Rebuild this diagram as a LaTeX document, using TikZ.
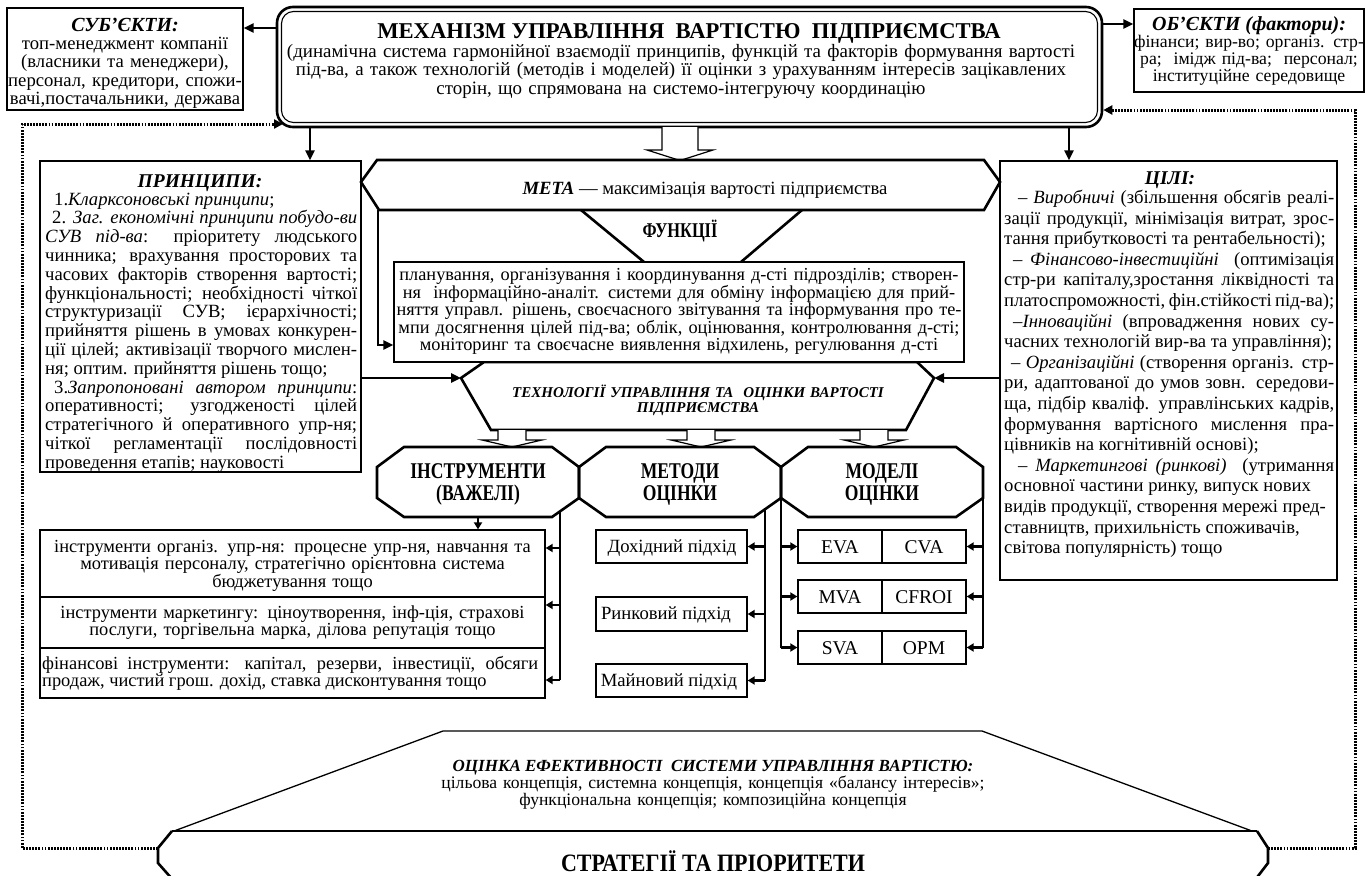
\documentclass[tikz,border=0pt]{standalone}
\usepackage{fontspec}
\setmainfont{Liberation Serif}
\newfontfamily\condf{Liberation Serif}[FakeStretch=0.78]
\newfontfamily\midf{Liberation Serif}[FakeStretch=0.88]
\usetikzlibrary{arrows.meta}
\setlength{\lineskiplimit}{-100pt}
\setlength{\lineskip}{0pt}
\hfuzz=300pt \vfuzz=300pt \hbadness=10000 \vbadness=10000
\newcommand\fsz[2]{\fontsize{#1}{#2}\selectfont}
\newcommand\myjl[1]{\hbox to\hsize{#1}}
\newcommand\myll[1]{\hbox to\hsize{#1\hfil}}
\tikzset{
  box/.style={draw, line width=1.3pt, fill=white, inner sep=0pt},
  hexl/.style={draw, line width=2.6pt, line join=miter},
  bus/.style={line width=2.6pt},
  arr/.style={line width=2.6pt, -{Triangle[length=10pt,width=9pt]}},
  sarr/.style={line width=2.4pt, -{Triangle[length=7pt,width=8pt]}},
  dotl/.style={line width=3pt, dash pattern=on 1.8pt off 1.3pt, -{Triangle[length=9pt,width=9pt]}},
  hollow/.style={draw, line width=1.2pt, fill=white},
  txt/.style={inner sep=0pt, anchor=base},
  body/.style={font=\fsz{18.67}{18.6}},
}
\begin{document}
\begin{tikzpicture}[x=1pt,y=-1pt]
\useasboundingbox (0,0) rectangle (1367,875);
% ---------------- top row
\node[draw, line width=2.6pt, rounded corners=16pt, minimum width=825pt, minimum height=120pt, inner sep=0pt] (main) at (689.5,67) {};
\node[draw, line width=1.1pt, rounded corners=12pt, minimum width=816pt, minimum height=111pt, inner sep=0pt] (maininner) at (main.center) {};
\node[txt, font=\fsz{22.6}{22}\bfseries] (mtitle) at (689,38) {МЕХАНІЗМ УПРАВЛІННЯ\ \ ВАРТІСТЮ\ \ ПІДПРИЄМСТВА};
\node[txt, text width=840pt, align=center, font=\fsz{18.9}{18.5}] (msub) at (681,57) {(динамічна система гармонійної взаємодії принципів, функцій та факторів формування вартості\\під-ва, а також технологій (методів і моделей) її оцінки з урахуванням інтересів зацікавлених\\сторін, що спрямована на системо-інтегруючу координацію};

\node[box, minimum width=236pt, minimum height=102pt] (subj) at (125,59) {};
\node[txt, font=\fsz{20}{20}\bfseries\itshape] (subjt) at (125,31.5) {СУБ’ЄКТИ:};
\node[txt, text width=240pt, align=center, body] (subjb) at (125,49) {топ-менеджмент компанії\\(власники та менеджери),\\персонал, кредитори, спожи-\\вачі,постачальники, держава};

\node[box, minimum width=230pt, minimum height=83pt] (obj) at (1249,50.5) {};
\node[txt, font=\fsz{20}{20}\bfseries\itshape] (objt) at (1249,31) {ОБ’ЄКТИ (фактори):};
\node[txt, text width=240pt, align=center, font=\fsz{17.7}{17}] (objb) at (1249,47.5) {фінанси; вир-во; організ. стр-\\ра;\ \ імідж під-ва;\ \ персонал;\\інституційне середовище};

\draw[arr] (main.west |- 0,28) -- (subj.east |- 0,28);
\draw[arr] (main.east |- 0,24) -- (obj.west |- 0,24);

% ---------------- principles and goals
\node[box, minimum width=321pt, minimum height=311pt] (princ) at (200.5,316.5) {};
\node[box, minimum width=337pt, minimum height=419pt] (goals) at (1168.5,370.5) {};
\draw[arr] (310,0 |- main.south) -- (310,0 |- princ.north);
\draw[arr] (1069,0 |- main.south) -- (1069,0 |- goals.north);

\node[txt, font=\fsz{19.5}{19.5}\bfseries\itshape] (princt) at (200,187) {ПРИНЦИПИ:};
\node[txt, anchor=base west, font=\fsz{18.67}{18.8}] (princb) at (45,205) {\vtop{\hsize=312pt
\myll{\hspace*{9pt}1.\textit{Кларксоновські принципи};}
\myjl{\hspace*{7pt}2. \textit{Заг. економічні принципи побудо-ви}}
\myjl{\textit{СУВ під-ва}: пріоритету людського}
\myjl{чинника; врахування просторових та}
\myjl{часових факторів створення вартості;}
\myjl{функціональності; необхідності чіткої}
\myjl{структуризації СУВ; ієрархічності;}
\myjl{прийняття рішень в умовах конкурен-}
\myjl{ції цілей; активізації творчого мислен-}
\myll{ня; оптим. прийняття рішень тощо;}
\myjl{\hspace*{9pt}3.\textit{Запропоновані автором принципи}:}
\myjl{оперативності; узгодженості цілей}
\myjl{стратегічного й оперативного упр-ня;}
\myjl{чіткої регламентації послідовності}
\myll{проведення етапів; науковості}}};

\node[txt, font=\fsz{19.5}{19.5}\bfseries\itshape] (goalst) at (1170,184.5) {ЦІЛІ:};
\node[txt, anchor=base west, font=\fsz{18.67}{20.6}] (goalsb) at (1004,203.5) {\vtop{\hsize=330pt
\myjl{\hspace*{14pt}– \textit{Виробничі} (збільшення обсягів реалі-}
\myjl{зації продукції, мінімізація витрат, зрос-}
\myll{тання прибутковості та рентабельності);}
\myjl{\hspace*{9pt}– \textit{Фінансово-інвестиційні}\ \ (оптимізація}
\myjl{стр-ри капіталу,зростання ліквідності та}
\myll{платоспроможності, фін.стійкості під-ва);}
\myjl{\hspace*{9pt}–\textit{Інноваційні} (впровадження нових су-}
\myll{часних технологій вир-ва та управління);}
\myjl{\hspace*{7pt}– \textit{Організаційні} (створення організ. стр-}
\myjl{ри, адаптованої до умов зовн. середови-}
\myjl{ща, підбір кваліф. управлінських кадрів,}
\myjl{формування вартісного мислення пра-}
\myll{цівників на когнітивній основі);}
\myjl{\hspace*{14pt}– \textit{Маркетингові (ринкові)}\ \ (утримання}
\myll{основної частини ринку, випуск нових}
\myll{видів продукції, створення мережі пред-}
\myll{ставництв, прихильність споживачів,}
\myll{світова популярність) тощо}}};

% ---------------- dotted feedback lines
\coordinate (sl) at (158,848);
\coordinate (sr) at (1268,848);
\draw[dotl] (sl) -- (22,848) -- (22,124) -- (283,124);
\draw[dotl] (sr) -- (1355,848) -- (1355,110) -- (main.east |- 0,110);

% ---------------- goal (META)
\draw[hollow] (662,127) -- (662,150) -- (647,150) -- (680,160.5) -- (713,150) -- (698,150) -- (698,127);
\draw[hexl, fill=white] (361,182) -- (377,160) -- (984,160) -- (1000,182) -- (984,210) -- (379,210) -- cycle;
\node[txt, body] (meta) at (705,194) {\textbf{\textit{МЕТА}} — максимізація вартості підприємства};

% ---------------- functions
\draw[hexl] (581,210) -- (644,262);
\draw[hexl] (802,210) -- (741,262);
\node[txt, font=\condf\fsz{21}{21}\bfseries] (funct) at (680,237) {ФУНКЦІЇ};

\coordinate (tl) at (461,378);
\coordinate (tr) at (934,378);
\draw[hexl] (484,362) -- (917,362) -- (tr) -- (906,430) -- (491,430) -- (tl) -- cycle;
\node[box, minimum width=570pt, minimum height=100pt] (func) at (679,312) {};
\node[txt, text width=590pt, align=center, font=\fsz{18.3}{17}] (funcb) at (679,280) {планування, організування і координування д-сті підрозділів; створен-\\ня\ \ інформаційно-аналіт. системи для обміну інформацією для прий-\\няття управл. рішень, своєчасного звітування та інформування про те-\\мпи досягнення цілей під-ва; облік, оцінювання, контролювання д-сті;\\моніторинг та своєчасне виявлення відхилень, регулювання д-сті};
\draw[arr] (378,210) |- (func.west |- 0,345);
\draw[arr] (princ.east |- tl) -- (tl);
\draw[arr] (goals.west |- tr) -- (tr);
\node[txt, text width=440pt, align=center, font=\fsz{15}{15.5}\bfseries\itshape] (techt) at (698,397) {ТЕХНОЛОГІЇ УПРАВЛІННЯ ТА\ \ ОЦІНКИ ВАРТОСТІ\\ПІДПРИЄМСТВА};

\foreach \cx in {512,701,874}
  \draw[hollow] ({\cx-14},430) -- ({\cx-14},440) -- ({\cx-30},440) -- (\cx,447) -- ({\cx+30},440) -- ({\cx+14},440) -- ({\cx+14},430);

% ---------------- three blocks
\foreach \xa/\xb in {377/579, 579/781, 781/983}
  \draw[hexl] ({\xa+27},447) -- ({\xb-27},447) -- (\xb,467) -- (\xb,498) -- ({\xb-27},517) -- ({\xa+27},517) -- (\xa,498) -- (\xa,467) -- cycle;
\node[txt, text width=200pt, align=center, font=\condf\fsz{22.5}{22}\bfseries] (instrt) at (478,478) {ІНСТРУМЕНТИ\\(ВАЖЕЛІ)};
\node[txt, text width=200pt, align=center, font=\condf\fsz{22.5}{22}\bfseries] (metht) at (680,478) {МЕТОДИ\\ОЦІНКИ};
\node[txt, text width=200pt, align=center, font=\condf\fsz{22.5}{22}\bfseries] (modt) at (882,478) {МОДЕЛІ\\ОЦІНКИ};

% instruments
\node[box, minimum width=505pt, minimum height=67pt] (ib1) at (292.5,563.5) {};
\node[box, minimum width=505pt, minimum height=51pt] (ib2) at (292.5,622.5) {};
\node[box, minimum width=505pt, minimum height=50pt] (ib3) at (292.5,673) {};
\node[txt, text width=505pt, align=center, font=\fsz{18.4}{17}] (ib1t) at (292.5,552.5) {інструменти організ. упр-ня: процесне упр-ня, навчання та\\мотивація персоналу, стратегічно орієнтовна система\\бюджетування тощо};
\node[txt, text width=505pt, align=center, font=\fsz{18.4}{17}] (ib2t) at (292.5,618.5) {інструменти маркетингу: ціноутворення, інф-ція, страхові\\послуги, торгівельна марка, ділова репутація тощо};
\node[txt, anchor=base west, font=\fsz{18.4}{17}] (ib3t) at (42,669) {\vtop{\hsize=496pt \myjl{фінансові інструменти: капітал, резерви, інвестиції, обсяги}\myll{продаж, чистий грош. дохід, ставка дисконтування тощо}}};
\draw[sarr] (478,517) -- (478,0 |- ib1.north);
\draw[bus] (560,511) -- (560,680);
\draw[sarr] (560,548) -- (ib1.east |- 0,548);
\draw[sarr] (560,605) -- (ib2.east |- 0,605);
\draw[sarr] (560,680) -- (ib3.east |- 0,680);

% methods
\node[box, minimum width=151pt, minimum height=33pt] (mb1) at (671.5,546.5) {};
\node[box, minimum width=151pt, minimum height=34pt] (mb2) at (671.5,614) {};
\node[box, minimum width=151pt, minimum height=33pt] (mb3) at (671.5,680.5) {};
\node[txt, body] (mb1t) at (672,552) {Дохідний підхід};
\node[txt, body] (mb2t) at (666,619) {Ринковий підхід};
\node[txt, body] (mb3t) at (669,686) {Майновий підхід};
\draw[bus] (765,510) -- (765,0 |- mb3.east);
\foreach \m in {mb1,mb2,mb3} \draw[sarr] (765,0 |- \m.east) -- (\m.east);

% models
\foreach \yy/\ln/\rn/\lt/\rt in {546.5/eva/cva/EVA/CVA, 596.5/mva/cfroi/MVA/CFROI, 647.5/sva/opm/SVA/OPM} {
  \node[box, minimum width=84pt, minimum height=33pt] (\ln) at (840,\yy) {};
  \node[box, minimum width=84pt, minimum height=33pt] (\rn) at (924,\yy) {};
  \node[txt, font=\fsz{19.5}{19.5}] (t\ln) at (840,{\yy+6.5}) {\lt};
  \node[txt, font=\fsz{19.5}{19.5}] (t\rn) at (924,{\yy+6.5}) {\rt};
}
\draw[bus] (781,498) -- (781,0 |- sva.west);
\draw[bus] (983,498) -- (983,0 |- opm.east);
\foreach \m in {eva,mva,sva} \draw[sarr] (781,0 |- \m.west) -- (\m.west);
\foreach \m in {cva,cfroi,opm} \draw[sarr] (983,0 |- \m.east) -- (\m.east);

% ---------------- evaluation and strategies
\draw[line width=1.3pt] (174,831) -- (443,731) -- (982,731) -- (1252,831);
\draw[line width=1.3pt] (172,831) -- (1257,831);
\draw[hexl] (172,831) -- (sl) -- (158,863) -- (173,880);
\draw[hexl] (1257,831) -- (sr) -- (1268,863) -- (1255,880);
\node[txt, font=\fsz{17}{17}\bfseries\itshape] (evt) at (713,771) {ОЦІНКА ЕФЕКТИВНОСТІ\ \ СИСТЕМИ УПРАВЛІННЯ ВАРТІСТЮ:};
\node[txt, text width=640pt, align=center, font=\fsz{17.6}{16}] (evb) at (713,788) {цільова концепція, системна концепція, концепція «балансу інтересів»;\\функціональна концепція; композиційна концепція};
\node[txt, font=\midf\fsz{25}{25}\bfseries] (strt) at (713,871) {СТРАТЕГІЇ ТА ПРІОРИТЕТИ};
\end{tikzpicture}
\end{document}
